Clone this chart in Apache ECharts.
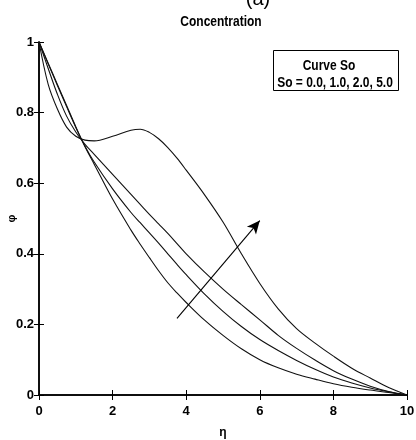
<!DOCTYPE html>
<html>
<head>
<meta charset="utf-8">
<title>Concentration</title>
<script src="https://cdn.jsdelivr.net/npm/echarts@6/dist/echarts.min.js"></script>
<style>
  html, body { margin: 0; padding: 0; background: #fff; }
  #chart { width: 416px; height: 440px; }
</style>
</head>
<body>
<div id="chart"></div>
<script>
// Similarity variable η (shared sample points for every profile)
const eta = [0, 0.25, 0.5, 0.75, 1, 1.25, 1.5, 2, 2.5, 2.75, 3, 3.25, 3.5, 3.75, 4, 4.5, 5, 5.5, 6, 6.5, 7, 7.5, 8, 8.5, 9, 9.5, 10];

// Concentration profiles φ(η) for each Soret number
const phiSo0 = [1, 0.94, 0.88, 0.82, 0.76, 0.703, 0.654, 0.555, 0.467, 0.427, 0.389, 0.352, 0.318, 0.289, 0.262, 0.212, 0.169, 0.131, 0.1, 0.077, 0.059, 0.045, 0.032, 0.022, 0.014, 0.007, 0];
const phiSo1 = [1, 0.938, 0.877, 0.817, 0.758, 0.705, 0.66, 0.584, 0.517, 0.488, 0.459, 0.43, 0.40, 0.37, 0.341, 0.286, 0.237, 0.194, 0.157, 0.126, 0.098, 0.073, 0.051, 0.034, 0.02, 0.009, 0];
const phiSo2 = [1, 0.925, 0.852, 0.79, 0.745, 0.71, 0.682, 0.625, 0.568, 0.54, 0.512, 0.485, 0.458, 0.429, 0.40, 0.348, 0.30, 0.256, 0.213, 0.169, 0.132, 0.099, 0.069, 0.045, 0.025, 0.01, 0];
const phiSo5 = [1, 0.88, 0.81, 0.759, 0.733, 0.722, 0.72, 0.733, 0.75, 0.753, 0.744, 0.726, 0.701, 0.671, 0.637, 0.567, 0.49, 0.40, 0.316, 0.244, 0.188, 0.147, 0.11, 0.076, 0.048, 0.021, 0];

const soValues = ['0.0', '1.0', '2.0', '5.0'];
const profiles = [phiSo0, phiSo1, phiSo2, phiSo5];

// Direction of increasing So (start and end in data coordinates)
const arrowFrom = [3.75, 0.217];
const arrowTo = [6.0, 0.494];

const FONT = "'Liberation Sans', Arial, sans-serif";

const pairs = (ys) => eta.map((x, i) => [x, ys[i]]);

const series = profiles.map((ys, k) => ({
  name: 'So = ' + soValues[k],
  type: 'line',
  data: pairs(ys),
  smooth: 0.35,
  showSymbol: false,
  lineStyle: { color: '#111', width: 1.1 },
  z: 3
}));

series.push({
  name: 'arrow',
  type: 'line',
  data: [],
  markLine: {
    silent: true,
    symbol: ['none', 'arrow'],
    symbolSize: [9, 13],
    label: { show: false },
    lineStyle: { color: '#000', width: 1.1, type: 'solid' },
    data: [[{ coord: arrowFrom }, { coord: arrowTo }]]
  }
});

const tickStyle = { show: true, inside: true, length: 5, lineStyle: { color: '#000', width: 1 } };
const lineStyle = { show: true, lineStyle: { color: '#000', width: 1.5 } };
const labelStyle = { color: '#000', fontFamily: FONT, fontWeight: 'bold', fontSize: 13 };

// Condensed bold text used for the heading and the key box
const narrowText = (text, x, y, size) => ({
  type: 'text', x: x, y: y, scaleX: 0.8, z: 11,
  style: { text: text, fill: '#000', font: 'bold ' + size + 'px ' + FONT, textAlign: 'center', textVerticalAlign: 'middle' }
});

const option = {
  animation: false,
  backgroundColor: '#fff',
  grid: { left: 39, top: 42, width: 368, height: 353, containLabel: false, outerBoundsMode: 'none' },
  xAxis: [
    {
      type: 'value', min: 0, max: 10, interval: 2, position: 'bottom',
      axisLine: lineStyle, axisTick: tickStyle, splitLine: { show: false },
      axisLabel: Object.assign({ margin: 10 }, labelStyle),
      name: 'η', nameLocation: 'middle', nameGap: 32, nameMoveOverlap: false,
      nameTextStyle: { color: '#000', fontFamily: FONT, fontWeight: 'bold', fontSize: 12 }
    },
    {
      type: 'value', min: 0, max: 10, interval: 2, position: 'top',
      axisLine: lineStyle, axisTick: tickStyle, axisLabel: { show: false }, splitLine: { show: false }
    }
  ],
  yAxis: [
    {
      type: 'value', min: 0, max: 1, interval: 0.2, position: 'left',
      axisLine: lineStyle, axisTick: tickStyle, splitLine: { show: false },
      axisLabel: Object.assign({ margin: 5 }, labelStyle),
      name: 'φ', nameLocation: 'middle', nameGap: 22, nameRotate: 90, nameMoveOverlap: false,
      nameTextStyle: { color: '#000', fontFamily: FONT, fontWeight: 'bold', fontSize: 11 }
    },
    {
      type: 'value', min: 0, max: 1, interval: 0.2, position: 'right',
      axisLine: lineStyle, axisTick: tickStyle, axisLabel: { show: false }, splitLine: { show: false }
    }
  ],
  series: series,
  graphic: [
    {
      type: 'text', x: 258, y: 9, z: 10,
      style: { text: '(a)', fill: '#000', font: '20px ' + FONT, textAlign: 'center', textVerticalAlign: 'bottom' }
    },
    narrowText('Concentration', 221, 22, 15),
    {
      type: 'rect', shape: { x: 273.5, y: 50.5, width: 125, height: 40 }, z: 10,
      style: { fill: '#fff', stroke: '#000', lineWidth: 1 }
    },
    narrowText('Curve So', 329, 66, 15),
    narrowText('So = ' + soValues.join(', '), 335, 83, 15)
  ]
};

const chart = echarts.init(document.getElementById('chart'), null, { renderer: 'canvas' });
chart.setOption(option);
</script>
</body>
</html>
